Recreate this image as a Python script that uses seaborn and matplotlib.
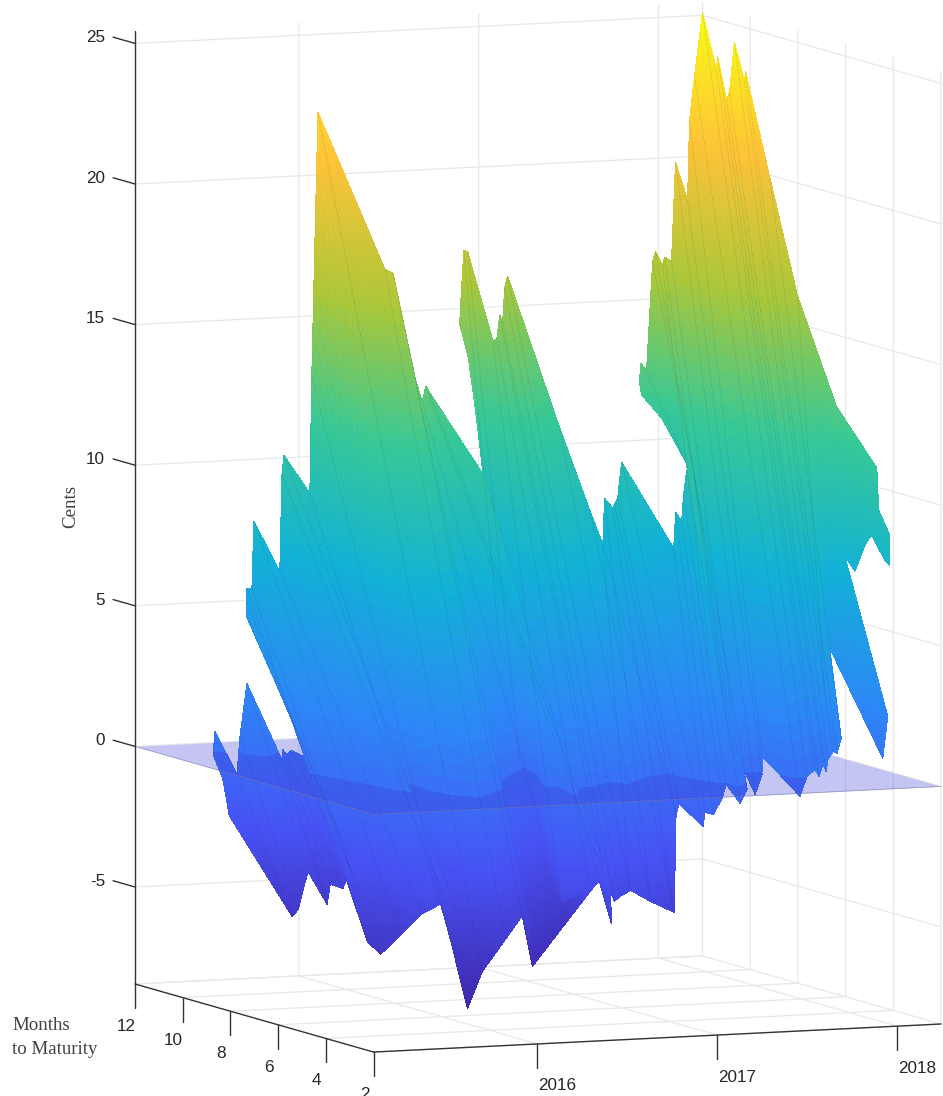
import numpy as np
import pandas as pd
import seaborn as sns
import matplotlib
matplotlib.use("Agg")
import matplotlib.pyplot as plt
from mpl_toolkits.mplot3d import proj3d

# seven pieces of the surface, each one a fan of lines from a top point to an end point
sheet_sizes = [10, 18, 13, 13, 25, 5, 2]

row_date_top = [
    2015.394, 2015.400, 2015.478, 2015.483, 2015.572, 2015.700, 2015.706, 2015.728, 2015.750, 2015.794,
    2015.711, 2015.711, 2015.711, 2015.739, 2015.750, 2015.894, 2015.906, 2015.917, 2016.061, 2016.072,
    2016.106, 2016.144, 2016.172, 2016.200, 2016.256, 2016.367, 2016.406, 2016.439,
    2016.894, 2016.900, 2016.917, 2016.939, 2017.061, 2017.089, 2017.117, 2017.133, 2017.144, 2017.161,
    2017.228, 2017.283, 2017.311,
    2017.617, 2017.644, 2017.672, 2017.689, 2017.706, 2017.728, 2017.950, 2017.961, 2017.978, 2017.989,
    2018.006, 2018.050, 2018.050,
    2017.894, 2017.900, 2017.933, 2017.967, 2017.983, 2018.022, 2018.033, 2018.072, 2018.094, 2018.161,
    2018.172, 2018.200, 2018.244, 2018.244, 2018.244, 2018.244, 2018.244, 2018.244, 2018.244, 2018.244,
    2018.244, 2018.244, 2018.244, 2018.244, 2018.244,
    2018.244, 2018.244, 2018.244, 2018.244, 2018.244,
    2018.244, 2018.244,
]
row_months_top = [
    11.03, 10.99, 10.66, 10.57, 10.95, 10.45, 10.45, 10.45, 10.45, 10.11,
    12, 12, 12, 12, 12, 12, 12, 12, 12, 12, 12, 9.48, 9.35, 8.64, 8.76, 9.44, 9.56, 7.50,
    12, 12, 12, 12, 11.87, 11.92, 12, 12, 12, 12, 10.32, 9.48, 9.14,
    11.45, 11.58, 11.45, 11.50, 11.50, 11.50, 10.99, 10.99, 10.87, 10.87, 10.87, 10.87, 10.87,
    12, 12, 12, 12, 12, 12, 12, 12, 12, 12, 12, 12, 12, 11.41, 11.37, 10.99, 10.87, 10.66, 10.24,
    10.19, 9.18, 8.01, 6.37, 6.33, 4.69,
    4.69, 4.61, 4.14, 4.14, 4.35,
    6.03, 4.23,
]
row_cents_top = [
    -0.15, 0.68, -0.79, 0.58, 2.34, -0.28, 0.07, -0.11, 0.03, -0.19,
    4.39, 4.96, 5.43, 5.42, 7.80, 5.97, 9.42, 10.09, 8.70, 12.93, 22.24, 17.25, 17.13, 13.56, 12.69,
    13.03, 12.74, 10.23,
    14.45, 15.19, 17.07, 17.00, 13.86, 13.84, 14.70, 14.44, 15.65, 16.07, 11.05, 8.32, 7.18,
    6.52, 8.12, 7.79, 7.91, 8.12, 9.40, 6.39, 7.66, 7.37, 8.29, 9.18, 8.95, 8.95,
    12.07, 12.74, 12.48, 16.35, 16.70, 16.19, 16.47, 16.32, 19.83, 18.46, 21.30, 22.86, 25.12, 23.20,
    23.71, 22.24, 22.52, 24.38, 23.10, 23.43, 19.93, 15.98, 12.43, 12.40, 10.67,
    10.67, 9.19, 8.41, 7.35, 7.47,
    7.21, 1.95,
]
row_date_end = [
    2015.394, 2015.400, 2015.478, 2015.483, 2015.572, 2015.700, 2015.706, 2015.728, 2015.750, 2015.794,
    2015.711, 2015.367, 2015.278, 2015.267, 2015.411, 2015.383, 2015.528, 2015.550, 2015.561, 2015.611,
    2015.694, 2015.822, 2016.117, 2016.200, 2016.744, 2016.367, 2016.406, 2016.439,
    2016.894, 2016.900, 2016.917, 2016.939, 2016.200, 2016.339, 2016.467, 2016.461, 2016.544, 2016.667,
    2016.672, 2016.872, 2017.122,
    2016.544, 2016.750, 2016.839, 2017.100, 2017.117, 2017.122, 2017.122, 2017.150, 2017.217, 2017.283,
    2017.250, 2017.367, 2017.622,
    2017.894, 2017.900, 2017.933, 2017.967, 2017.367, 2017.306, 2017.428, 2017.544, 2017.578, 2017.639,
    2017.639, 2017.700, 2017.750, 2017.789, 2017.783, 2017.817, 2017.833, 2017.828, 2017.844, 2017.833,
    2017.867, 2017.739, 2018.244, 2018.244, 2018.244,
    2018.244, 2018.244, 2018.244, 2018.244, 2018.244,
    2018.244, 2018.244,
]
row_months_end = [
    10.36, 10.40, 8.34, 8.13, 8.39, 8.55, 8.47, 8.09, 7.97, 8.22,
    9.44, 5.07, 3.68, 3.05, 3.26, 2.17, 2.29, 2.34, 2.00, 2.00, 2.00, 2.00, 3.30, 3.72, 6.37, 2.00,
    2.00, 2.21,
    10.78, 10.99, 10.49, 9.82, 2.55, 2.34, 2.71, 2.25, 2.63, 3.13, 2.34, 2.84, 4.65,
    2.21, 2.92, 2.59, 4.48, 4.48, 3.51, 3.43, 3.30, 3.43, 3.76, 2.92, 3.51, 5.95,
    11.92, 11.12, 10.40, 10.24, 5.28, 4.69, 4.73, 5.24, 4.77, 4.94, 4.94, 3.81, 3.89, 3.85, 3.64,
    3.72, 3.72, 3.60, 3.51, 3.26, 3.34, 3.05, 6.79, 6.58, 6.03,
    6.03, 5.61, 5.32, 5.19, 5.19,
    6.58, 4.44,
]
row_cents_end = [
    -1.41, -2.17, -5.29, -4.99, -3.73, -4.98, -4.25, -4.31, -3.57, -3.40,
    0.07, -2.75, -4.99, -5.29, -4.68, -3.66, -3.31, -2.90, -5.33, -7.07, -5.78, -4.68, -3.99, -6.18,
    -5.39, -2.54, -2.69, -4.36,
    10.72, 9.25, 3.17, -0.59, -3.58, -3.18, -2.78, -3.59, -3.53, -3.48, -3.64, -4.25, -1.29,
    -3.21, -3.84, -4.18, -1.23, -0.88, -1.43, -0.91, -0.97, -0.45, -0.05, -0.52, -0.20, 0.20,
    11.63, 11.00, 9.67, 9.13, 8.20, 4.80, 1.20, 0.50, -0.75, -0.10, 0.55, -0.62, 0.05, 0.30,
    0.10, 0.50, 0.25, 0.70, 1.00, 1.00, 1.50, 3.00, 3.54, 3.66, 7.21,
    7.21, 6.78, 8.48, 8.59, 8.59,
    3.66, 0.41,
]

date_ticks = [2016, 2017, 2018]
month_ticks = [12, 10, 8, 6, 4, 2]
cent_ticks = [-5, 0, 5, 10, 15, 20, 25]

date_lim = (2015.089, 2018.244)
month_lim = (2, 12)
cent_lim = (-8.45, 25.45)

# MATLAB parula
parula = ["#3e26a8", "#4752f4", "#2d87f7", "#12b1d6", "#37c897", "#abc739", "#fec338", "#f9fb15"]

rows = pd.DataFrame({
    "sheet": np.repeat(np.arange(len(sheet_sizes)), sheet_sizes),
    "d_top": row_date_top,
    "m_top": row_months_top,
    "z_top": row_cents_top,
    "d_end": row_date_end,
    "m_end": row_months_end,
    "z_end": row_cents_end,
})


def fine_mesh(df, above, across=10, along=40):
    # only a finer tessellation of the quads, so the colour runs smoothly like
    # MATLAB's interpolated shading. each line is cut exactly where it crosses
    # zero. sheets are kept apart by a row of NaN
    xs, ys, zs = [], [], []
    t = np.linspace(0, 1, along + 1)[None, :]
    for _, s in df.groupby("sheet"):
        idx = np.arange(len(s))
        fine = np.linspace(0, len(s) - 1, (len(s) - 1) * across + 1)
        col = lambda name: np.interp(fine, idx, s[name].to_numpy())[:, None]
        z_top, z_end = col("z_top"), col("z_end")
        drop = z_top - z_end
        flat = np.abs(drop) < 1e-9
        cross = np.where(flat, (z_top > 0) * 1.0, z_top / np.where(flat, 1, drop))
        cross = np.clip(cross, 0, 1)
        falling = z_top >= z_end
        keep_start = falling == above
        lo = np.where(keep_start, 0.0, cross)
        hi = np.where(keep_start, cross, 1.0)
        frac = lo + (hi - lo) * t
        xs.append(col("d_top") * (1 - frac) + col("d_end") * frac)
        ys.append(col("m_top") * (1 - frac) + col("m_end") * frac)
        zs.append(z_top * (1 - frac) + z_end * frac)
        for part in (xs, ys, zs):
            part.append(np.full((1, along + 1), np.nan))
    return np.vstack(xs[:-1]), np.vstack(ys[:-1]), np.vstack(zs[:-1])


sns.set_theme(style="whitegrid", rc={"grid.color": "#e8e8e8", "grid.linewidth": 0.9})
plt.rcParams["font.family"] = ["Liberation Sans", "DejaVu Sans"]
cmap = sns.blend_palette(parula, as_cmap=True)

fig = plt.figure(figsize=(9.43, 10.96), dpi=100)
ax = fig.add_axes([0, 0, 1, 943 / 1096], projection="3d", proj_type="ortho")
ax.computed_zorder = False
ax.patch.set_alpha(0)

surf_opts = dict(cmap=cmap, vmin=-7.2, vmax=25.2, rstride=1, cstride=1, linewidth=0, antialiased=False, shade=False)

# the viewer looks from above, so whatever is under zero is seen through the plane
ax.plot_surface(*fine_mesh(rows, above=False), zorder=1, **surf_opts)
plane_x, plane_y = np.meshgrid(date_lim, month_lim)
ax.plot_surface(plane_x, plane_y, np.zeros((2, 2)), color=(0.25, 0.25, 0.85), alpha=0.3,
                linewidth=0, shade=False, zorder=2)
ax.plot(date_lim, [2, 2], [0, 0], color="#7c7ca8", lw=0.5, alpha=0.7, zorder=2)
ax.plot([date_lim[0]] * 2, month_lim, [0, 0], color="#7c7ca8", lw=0.5, alpha=0.7, zorder=2)
ax.plot_surface(*fine_mesh(rows, above=True), zorder=3, **surf_opts)

# dotted mesh lines, the very short ones at the far end are left out
for r in rows.itertuples():
    if r.m_top - r.m_end < 1.5:
        continue
    ax.plot([r.d_top, r.d_end], [r.m_top, r.m_end], [r.z_top, r.z_end], ls=(0, (1, 2.5)), lw=0.45,
            color="#14143a", alpha=0.4, zorder=4)

ax.set_xlim(*date_lim, view_margin=0)
ax.set_ylim(*month_lim, view_margin=0)
ax.set_zlim(*cent_lim, view_margin=0)
ax.view_init(elev=6.82, azim=-112.6)
ax.set_box_aspect((614, 620, 959), zoom=1)

# grid comes from mplot3d, the axis lines and ticks are drawn below like MATLAB does
ax.set_xticks(date_ticks)
ax.set_yticks(month_ticks)
ax.set_zticks(cent_ticks)
ax.tick_params(axis="both", which="both", color=(0, 0, 0, 0), labelcolor=(0, 0, 0, 0))
for axis in (ax.xaxis, ax.yaxis, ax.zaxis):
    axis.set_pane_color((1, 1, 1, 0))
    axis.pane.set_edgecolor((1, 1, 1, 0))
    axis.line.set_color((0, 0, 0, 0))

soft = dict(color="#e8e8e8", lw=0.9, zorder=0)
ax.plot(date_lim, [12, 12], [cent_lim[0]] * 2, **soft)
ax.plot([date_lim[1]] * 2, month_lim, [cent_lim[0]] * 2, **soft)
ax.plot([date_lim[1]] * 2, [12, 12], cent_lim, **soft)

dark = dict(color="#333333", lw=1.0, zorder=5)
ax.plot([date_lim[0]] * 2, [12, 12], cent_lim, **dark)
ax.plot([date_lim[0]] * 2, month_lim, [cent_lim[0]] * 2, **dark)
ax.plot(date_lim, [2, 2], [cent_lim[0]] * 2, **dark)

tick_font = dict(fontsize=12.3, color="#262626", zorder=6)
for d in date_ticks:
    ax.plot([d, d], [2, 2], [cent_lim[0], cent_lim[0] - 0.85], **dark)
    ax.text(d + 0.111, 2, cent_lim[0] - 1.53, str(d), ha="center", va="center", **tick_font)
for m in month_ticks:
    ax.plot([date_lim[0]] * 2, [m, m], [cent_lim[0], cent_lim[0] - 0.85], **dark)
    ax.text(date_lim[0], m + 0.38, cent_lim[0] - 1.6, str(m), ha="center", va="center", **tick_font)
for c in cent_ticks:
    ax.plot([date_lim[0]] * 2, [12, 12.92], [c, c], **dark)
    ax.text(date_lim[0], 13.25, c - 0.1, str(c), ha="right", va="center", **tick_font)

# place the square axes so the floor corners land where they are in the reference
ax.apply_aspect()


def floor_px(d, m):
    px, py, _ = proj3d.proj_transform(d, m, cent_lim[0], ax.get_proj())
    return ax.transData.transform((px, py))


box = ax.bbox.bounds
left_px, right_px = floor_px(date_lim[0], 12), floor_px(date_lim[1], 2)
side = box[2] * (941 - 135) / (right_px[0] - left_px[0])
frac_x = (left_px[0] - box[0]) / box[2]
frac_y = (left_px[1] - box[1]) / box[3]
ax.set_position([(135 - side * frac_x) / 943, (1096 - 984 - side * frac_y) / 1096, side / 943, side / 1096])

serif = dict(family=["Liberation Serif", "DejaVu Serif"], fontsize=13.6, color="#404040")
fig.text(71 / 943, 1 - 507 / 1096, "Cents", rotation=90, ha="center", va="center", **serif)
fig.text(12 / 943, 1 - 1026 / 1096, "Months", ha="left", va="center", **serif)
fig.text(12 / 943, 1 - 1049 / 1096, "to Maturity", ha="left", va="center", **serif)

fig.savefig("out.png", dpi=100, facecolor="white")
